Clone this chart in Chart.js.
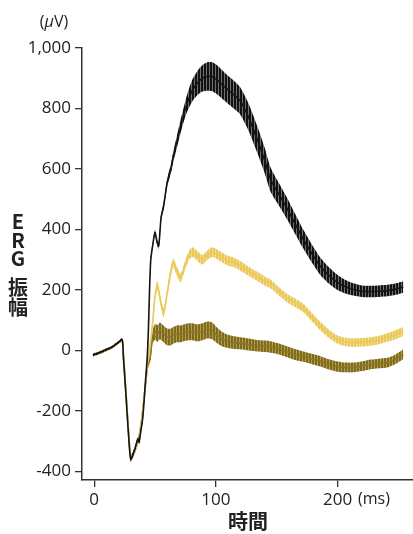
<!DOCTYPE html>
<html lang="ja">
<head>
<meta charset="utf-8">
<script src="https://cdn.jsdelivr.net/npm/chart.js@4.4.1/dist/chart.umd.min.js"></script>
<style>
  html, body { margin: 0; padding: 0; background: #fff; }
  #wrap { width: 413px; height: 534px; position: relative; }
</style>
</head>
<body>
<div id="wrap"><canvas id="ergChart"></canvas></div>
<script>
// --- data (time in ms, amplitude in µV) ---
const blackTime = [-1, 5, 10, 15, 20, 23, 24, 26, 28, 30,
  32, 34, 36, 37, 38, 40, 42, 43.5, 44.5, 45.5,
  46.5, 48, 50, 51.5, 53, 55, 57, 60, 63, 65,
  68, 71, 75, 78, 81, 85, 89, 93, 97, 101,
  105, 110, 115, 120, 127, 134, 140, 145, 152, 159,
  165, 172, 179, 186, 193, 200, 207, 213, 220, 227,
  234, 241, 248, 254];
const blackMean = [-15, -6, 3, 12, 27, 36, -20, -140, -265, -360,
  -342, -318, -292, -302, -275, -220, -110, -30, 60, 200,
  300, 345, 390, 362, 345, 440, 476, 555, 600, 640,
  690, 740, 800, 835, 862, 885, 900, 906, 905, 895,
  880, 862, 845, 825, 770, 698, 630, 565, 515, 466,
  420, 367, 320, 278, 248, 225, 210, 202, 196, 195,
  196, 198, 203, 210];
const blackErr = [4, 4, 4, 4, 4, 4, 4, 5, 6, 8,
  8, 8, 8, 8, 8, 8, 8, 8, 8, 8,
  8, 8, 8, 8, 9, 10, 11, 13, 15, 17,
  20, 22, 26, 32, 36, 40, 44, 47, 48, 48,
  47, 46, 46, 45, 45, 44, 42, 40, 37, 35,
  33, 31, 30, 29, 27, 25, 22, 20, 19, 19,
  19, 19, 19, 19];

const colorTime = [-1, 5, 10, 15, 20, 23, 24, 26, 28, 30,
  32, 34, 36, 38, 40, 42, 44, 46, 48, 50,
  52, 54, 57, 60, 63, 65, 68, 71, 75, 78,
  81, 85, 89, 93, 97, 101, 105, 110, 115, 120,
  127, 134, 140, 145, 152, 159, 165, 172, 179, 186,
  193, 200, 207, 213, 220, 227, 234, 241, 248, 254];
const yellowMean = [-15, -6, 3, 12, 27, 34, -15, -130, -255, -350,
  -345, -325, -300, -260, -195, -115, -40, 20, 90, 180,
  215, 175, 125, 190, 260, 290, 262, 240, 285, 315,
  325, 312, 300, 315, 325, 318, 308, 297, 291, 280,
  262, 245, 230, 220, 195, 172, 158, 140, 110, 80,
  55, 36, 28, 26, 27, 30, 35, 43, 53, 63];
const yellowErr = [5, 5, 5, 5, 5, 5, 5, 6, 7, 8,
  8, 8, 8, 8, 8, 8, 8, 10, 12, 14,
  15, 15, 15, 15, 15, 15, 15, 15, 15, 15,
  16, 16, 16, 16, 16, 16, 16, 16, 16, 16,
  15, 15, 15, 15, 14, 14, 14, 14, 14, 14,
  14, 14, 14, 14, 14, 14, 14, 14, 15, 15];
const oliveMean = [-15, -6, 3, 12, 27, 34, -15, -130, -255, -350,
  -345, -325, -300, -260, -195, -120, -50, -25, 45, 62,
  56, 65, 55, 45, 45, 50, 55, 55, 60, 62,
  62, 58, 62, 68, 65, 50, 38, 30, 26, 24,
  20, 16, 14, 12, 5, -5, -13, -20, -28, -36,
  -46, -53, -56, -56, -52, -46, -43, -40, -28, -13];
const oliveErr = [5, 5, 5, 5, 5, 5, 5, 6, 7, 8,
  8, 8, 8, 8, 8, 8, 10, 15, 22, 26,
  28, 28, 28, 28, 28, 28, 28, 28, 28, 28,
  28, 28, 28, 28, 28, 26, 24, 22, 21, 20,
  20, 19, 19, 19, 18, 18, 18, 17, 17, 17,
  17, 17, 16, 16, 16, 16, 16, 16, 16, 16];

const xTickValues = [0, 100, 200];
const yTickValues = [-400, -200, 0, 200, 400, 600, 800, 1000];

// --- helpers ---
function stripes(dark, light) {
    const c = document.createElement('canvas');
    c.width = 3; c.height = 1;
    const g = c.getContext('2d');
    g.fillStyle = dark; g.fillRect(0, 0, 2, 1);
    g.fillStyle = light; g.fillRect(2, 0, 1, 1);
    return g.createPattern(c, 'repeat');
}

function points(time, values) {
    return time.map((t, i) => ({ x: t, y: values[i] }));
}

function trace(time, mean, err, lineColor, fillPattern, order) {
    const upper = mean.map((v, i) => v + err[i]);
    const lower = mean.map((v, i) => v - err[i]);
    return [
        { data: points(time, upper), borderWidth: 0, pointRadius: 0, fill: '+1',
          backgroundColor: fillPattern, order: order },
        { data: points(time, lower), borderWidth: 0, pointRadius: 0, fill: false, order: order },
        { data: points(time, mean), borderColor: lineColor, borderWidth: 1.6, pointRadius: 0,
          fill: false, order: order - 0.5 }
    ];
}

const FONT = '"Open Sans", "Noto Sans", sans-serif';
const JP_FONT = '"Noto Sans CJK JP", sans-serif';

const ergText = {
    id: 'ergText',
    afterDraw(chart) {
        const ctx = chart.ctx;
        ctx.save();
        ctx.fillStyle = '#222';
        ctx.textBaseline = 'middle';

        // unit (µV) above the y axis
        const a = '(', c = 'V)';
        ctx.font = 'italic 16px ' + FONT;
        const wMu = ctx.measureText('μ').width;
        ctx.font = '16px ' + FONT;
        const wA = ctx.measureText(a).width, wC = ctx.measureText(c).width;
        let x = 54 - (wA + wMu + wC) / 2;
        ctx.textAlign = 'left';
        ctx.fillText(a, x, 22); x += wA;
        ctx.font = 'italic 16px ' + FONT;
        ctx.fillText('μ', x, 22); x += wMu;
        ctx.font = '16px ' + FONT;
        ctx.fillText(c, x, 22);

        // (ms) after the last x tick
        ctx.fillText('(ms)', 358, 499);

        // axis titles
        ctx.font = 'bold 20px ' + JP_FONT;
        ctx.textAlign = 'center';
        ctx.fillText('時間', 248, 521);
        const yTitle = [['E', 221], ['R', 240], ['G', 258], ['振', 287], ['幅', 307]];
        yTitle.forEach(([ch, y]) => ctx.fillText(ch, 18, y));
        ctx.restore();
    }
};

document.addEventListener('DOMContentLoaded', () => {
    const ctx = document.getElementById('ergChart');

    const datasets = [
        ...trace(colorTime, oliveMean, oliveErr, '#8a7628', stripes('#7f6b1e', '#b39e50'), 6),
        ...trace(colorTime, yellowMean, yellowErr, '#eac95e', stripes('#eac85a', '#f4df96'), 4),
        ...trace(blackTime, blackMean, blackErr, '#151515', stripes('#121212', '#707070'), 2)
    ];

    new Chart(ctx, {
        type: 'line',
        data: { datasets: datasets },
        options: {
            responsive: true,
            maintainAspectRatio: false,
            animation: false,
            devicePixelRatio: 1,
            layout: { padding: { top: 48, left: 0, right: 0, bottom: 0 } },
            elements: { line: { tension: 0.25 } },
            plugins: { legend: { display: false }, tooltip: { enabled: false } },
            scales: {
                x: {
                    type: 'linear',
                    min: -10,
                    max: 262,
                    afterBuildTicks: s => { s.ticks = xTickValues.map(v => ({ value: v })); },
                    afterFit: s => { s.height = 54; },
                    ticks: { color: '#222', padding: 3, maxRotation: 0,
                             font: { family: FONT, size: 17 }, callback: v => String(v) },
                    grid: { drawOnChartArea: false, drawTicks: true, tickLength: 7,
                            color: '#333', lineWidth: 1.3 },
                    border: { color: '#333', width: 1.5 }
                },
                y: {
                    min: -428,
                    max: 1000,
                    afterBuildTicks: s => { s.ticks = yTickValues.map(v => ({ value: v })); },
                    afterFit: s => { s.width = 82; },
                    ticks: { color: '#222', padding: 4,
                             font: { family: FONT, size: 17 },
                             callback: v => v.toLocaleString('en-US') },
                    grid: { drawOnChartArea: false, drawTicks: true, tickLength: 7,
                            color: '#333', lineWidth: 1.3 },
                    border: { color: '#333', width: 1.5 }
                }
            }
        },
        plugins: [ergText]
    });
});
</script>
</body>
</html>
